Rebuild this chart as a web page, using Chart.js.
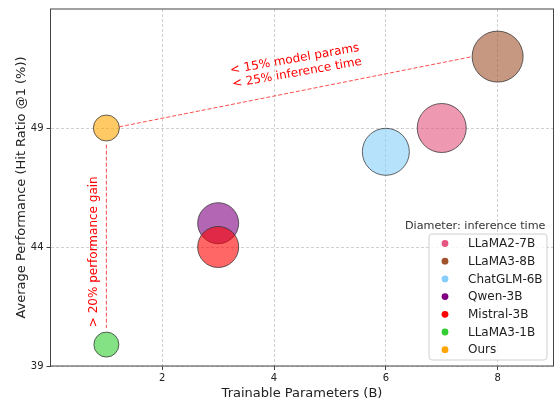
<!DOCTYPE html>
<html>
<head>
<meta charset="utf-8">
<script src="https://cdn.jsdelivr.net/npm/chart.js@4/dist/chart.umd.min.js"></script>
<style>
  html, body { margin: 0; padding: 0; background: #fff; }
  #wrap { width: 556px; height: 403px; }
</style>
</head>
<body>
<div id="wrap"><canvas id="grafica"></canvas></div>
<script>
// data
const models = ['LLaMA2-7B', 'LLaMA3-8B', 'ChatGLM-6B', 'Qwen-3B', 'Mistral-3B', 'LLaMA3-1B', 'Ours'];
const params = [7, 8, 6, 3, 3, 1, 1];            // trainable parameters (B)
const perf = [49.0, 52.0, 48.0, 45.0, 44.0, 39.9, 49.0];  // hit ratio @1 (%)
const diameter = [49, 51, 47, 41, 41, 25, 26];   // bubble diameter ~ inference time
const colors = ['#e4547f', '#a0522d', '#87cefa', '#800080', '#ff0000', '#32cd32', '#ffa500'];
const xTicks = [2, 4, 6, 8];
const yTicks = [39, 44, 49];

// annotation anchors (data coords)
const trendLine = [[1.23, 49.05], [7.55, 52.0]];
const gainLine = [[1, 48.3], [1, 40.6]];
const trendText = ['< 15% model params', '< 25% inference time'];
const trendTextAt = [4.39, 51.6];
const gainText = '> 20% performance gain';
const gainTextAt = [0.78, 43.8];

const FONT = "'DejaVu Sans', sans-serif";

function hexA(hex, a) {
    const n = parseInt(hex.slice(1), 16);
    return 'rgba(' + (n >> 16) + ',' + ((n >> 8) & 255) + ',' + (n & 255) + ',' + a + ')';
}

const datasets = models.map((m, i) => ({
    label: m,
    data: [{ x: params[i], y: perf[i], r: diameter[i] / 2 }],
    backgroundColor: hexA(colors[i], 0.6),
    borderColor: 'rgba(50,50,50,0.75)',
    borderWidth: 1,
    order: models.length - i
}));

const extras = {
    id: 'extras',
    afterDraw(chart) {
        const ctx = chart.ctx, a = chart.chartArea;
        const xs = chart.scales.x, ys = chart.scales.y;
        const px = p => [xs.getPixelForValue(p[0]), ys.getPixelForValue(p[1])];

        // spines
        ctx.save();
        ctx.strokeStyle = '#444';
        ctx.lineWidth = 1;
        ctx.strokeRect(a.left, a.top, a.right - a.left, a.bottom - a.top);

        // dashed red lines
        ctx.strokeStyle = 'rgba(255,0,0,0.7)';
        ctx.setLineDash([4, 2]);
        [trendLine, gainLine].forEach(l => {
            const p0 = px(l[0]), p1 = px(l[1]);
            ctx.beginPath();
            ctx.moveTo(p0[0], p0[1]);
            ctx.lineTo(p1[0], p1[1]);
            ctx.stroke();
        });
        ctx.setLineDash([]);

        // red texts
        ctx.fillStyle = '#ff0000';
        ctx.font = '12px ' + FONT;
        ctx.textAlign = 'center';
        ctx.textBaseline = 'middle';
        let c = px(trendTextAt);
        ctx.save();
        ctx.translate(c[0], c[1]);
        ctx.rotate(-10 * Math.PI / 180);
        ctx.fillText(trendText[0], 0, -7);
        ctx.fillText(trendText[1], 0, 7);
        ctx.restore();

        c = px(gainTextAt);
        ctx.save();
        ctx.translate(c[0], c[1]);
        ctx.rotate(-Math.PI / 2);
        ctx.fillText(gainText, 0, 0);
        ctx.restore();

        // legend
        const bx = a.right - 124.5, by = a.bottom - 132, bw = 118, bh = 126;
        ctx.fillStyle = '#333';
        ctx.textAlign = 'right';
        ctx.font = '11.2px ' + FONT;
        ctx.fillText('Diameter: inference time', a.right - 8, by - 8);
        ctx.font = '12px ' + FONT;
        ctx.beginPath();
        ctx.roundRect(bx, by, bw, bh, 3);
        ctx.fillStyle = 'rgba(255,255,255,0.8)';
        ctx.fill();
        ctx.strokeStyle = '#d0d0d0';
        ctx.stroke();
        ctx.textAlign = 'left';
        models.forEach((m, i) => {
            const y = by + 9.5 + i * 17.7;
            ctx.beginPath();
            ctx.arc(bx + 16, y, 3.4, 0, Math.PI * 2);
            ctx.fillStyle = colors[i];
            ctx.fill();
            ctx.fillStyle = '#222';
            ctx.fillText(m, bx + 39, y + 0.5);
        });
        ctx.restore();
    }
};

const graph = document.querySelector('#grafica');

new Chart(graph, {
    type: 'bubble',
    data: { datasets: datasets },
    options: {
        responsive: true,
        maintainAspectRatio: false,
        animation: false,
        layout: { autoPadding: false, padding: { top: 6, right: 2.5, left: 0, bottom: 0 } },
        plugins: { legend: { display: false }, tooltip: { enabled: false } },
        scales: {
            x: {
                type: 'linear', min: 0, max: 9,
                afterBuildTicks: s => { s.ticks = xTicks.map(v => ({ value: v })); },
                afterFit: s => { s.height = 37; },
                grid: { color: 'rgba(170,170,170,0.7)', lineWidth: 0.8, tickLength: 4, tickColor: '#444', tickBorderDash: [], tickWidth: 1 },
                border: { display: false, dash: [3, 2] },
                ticks: { font: { family: FONT, size: 10 }, color: '#222', padding: 2, maxRotation: 0 },
                title: { display: true, text: 'Trainable Parameters (B)', color: '#222', font: { family: FONT, size: 13 }, padding: { top: 2, bottom: 2 } }
            },
            y: {
                type: 'linear', min: 39, max: 54,
                afterBuildTicks: s => { s.ticks = yTicks.map(v => ({ value: v })); },
                afterFit: s => { s.width = 50.5; },
                grid: { color: 'rgba(170,170,170,0.7)', lineWidth: 0.8, tickLength: 4, tickColor: '#444', tickBorderDash: [], tickWidth: 1 },
                border: { display: false, dash: [3, 2] },
                ticks: { font: { family: FONT, size: 10 }, color: '#222', padding: 3 },
                title: { display: true, text: 'Average Performance (Hit Ratio @1 (%))', color: '#222', font: { family: FONT, size: 13 }, padding: { top: 14, bottom: 2 } }
            }
        }
    },
    plugins: [extras]
});
</script>
</body>
</html>
